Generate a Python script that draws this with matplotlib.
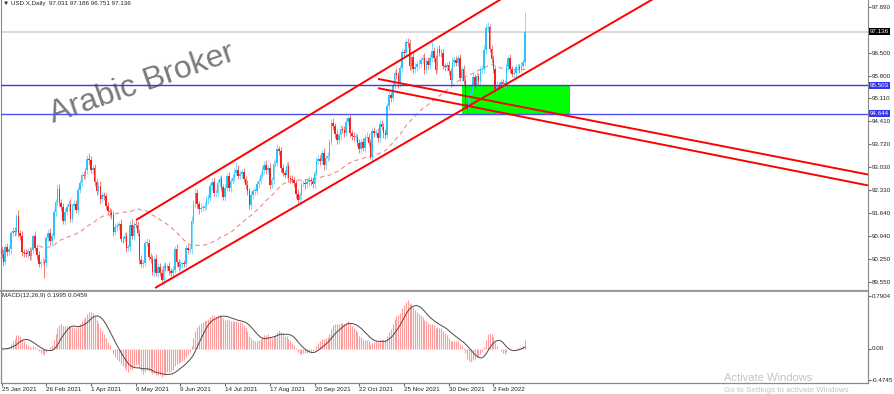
import numpy
import matplotlib
matplotlib.use("Agg")
import matplotlib.pyplot as plt
from matplotlib.patches import Rectangle

plt.rcParams['font.family']=['Liberation Sans','DejaVu Sans']

# daily closes, USD.X, 25 Jan 2021 .. 25 Feb 2022
closes=[90.38,90.16,90.61,90.46,90.53, 91.02,91.10,91.06,91.53,91.03,
        90.94,90.44,90.43,90.40,90.48, 90.32,90.50,90.95,90.57,90.36,
        90.10,90.14,90.15,90.11,90.88, 91.02,90.77,90.93,91.66,91.98,
        92.36,91.95,91.83,91.40,91.67, 91.83,91.90,91.45,91.86,91.92,
        91.73,92.34,92.53,92.78,92.77, 92.94,93.28,93.23,92.93,92.99,
        92.57,92.31,92.46,92.05,92.17, 92.15,91.84,91.70,91.65,91.56,
        91.06,91.22,91.24,91.31,90.85, 90.84,90.94,90.58,90.61,91.28,
        90.93,91.28,91.27,91.04,90.22, 90.10,90.12,90.72,90.72,90.31,
        90.23,89.84,90.23,89.81,90.01, 89.82,89.59,90.03,89.98,90.02,
        89.87,89.82,89.91,90.53,90.14, 90.00,90.10,90.10,90.09,90.58,
        90.52,90.53,91.40,91.90,92.23, 91.90,91.75,91.80,91.80,91.85,
        92.05,92.10,92.44,92.58,92.23, 92.25,92.55,92.66,92.41,92.12,
        92.40,92.75,92.40,92.60,92.69, 92.86,92.93,92.76,92.83,92.87,
        92.67,92.48,92.29,91.87,92.17, 92.30,92.30,92.50,92.60,92.80,
        92.95,93.10,92.93,93.00,92.49, 92.62,93.13,93.16,93.58,93.51,
        93.00,92.86,92.80,93.06,92.68, 92.66,92.63,92.53,92.22,92.03,
        92.17,92.52,92.55,92.50,92.58, 92.63,92.60,92.50,92.85,93.22,
        93.26,93.21,93.44,93.09,93.30, 93.37,93.78,94.35,94.26,94.04,
        93.84,94.00,94.19,94.16,94.07, 94.40,94.51,94.05,93.96,93.94,
        93.95,93.76,93.57,93.79,93.61, 93.92,93.95,93.77,93.32,94.12,
        94.06,94.07,93.90,94.33,94.25, 94.05,94.00,94.87,95.20,95.13,
        95.50,95.88,95.81,95.54,96.03, 96.51,96.50,96.82,96.78,96.09,
        96.37,95.99,96.05,96.14,96.16, 96.27,96.34,95.97,96.24,96.12,
        96.32,96.55,96.32,95.98,96.60, 96.50,96.48,96.10,96.05,96.12,
        95.93,95.67, 96.22,96.26,96.18,96.34,95.74, 95.99,95.63,94.94,
        94.79,95.16, 95.27,95.75,95.53,95.78,95.64, 95.96,96.00,96.58,
        97.23,97.26, 96.62,96.31,96.00,95.40,95.49, 95.45,95.60,95.55,
        95.55,96.05, 96.33,96.00,95.85,95.87,96.05, 96.05,96.00,96.10,
        96.20,97.136]
# wick beyond the body, in hundredths
hi_ext=[12,15,8,10,14,6,12,10,7,18, 9,14,10,12,8,11,9,6,15,10,
        12,9,14,10,6,13,15,10,8,9, 14,16,11,12,10,9,13,15,8,10,
        11,7,10,9,12,8,10,16,14,9, 13,10,12,14,9,11,10,12,8,10,
        14,10,12,9,13,10,12,11,9,10, 18,9,14,12,10,13,11,8,15,12,
        10,14,9,16,10,11,12,9,13,8, 12,10,11,9,16,10,12,8,11,9,
        10,12,15,14,17,12,10,13,9,11, 10,12,9,11,14,10,12,9,13,10,
        11,9,14,10,12,13,26,15,10,9, 12,10,14,11,13,9,12,10,11,8,
        12,10,13,9,15,11,10,12,15,10, 14,11,9,12,13,10,12,9,11,14,
        10,12,9,11,10,13,10,12,9,11, 12,14,10,15,9,12,10,14,16,11,
        13,10,12,9,11,10,5,14,10,12, 11,9,13,10,12,10,14,11,12,10,
        12,10,14,11,13,10,12,9,13,11, 12,10,14,11,10,13,9,12,11,14,
        10,15,12,11,13,10,12,14,10,11, 13,36,11,12,10,14,11,12,9,10,
        12,10,14,11,12,10,13,11,12,14, 10,12,11,14,10,12,11,13,12,15,
        14,18,12,11,13,10,14,12,10,11, 12,14,11,13,10,12,11,13,10,12,
        11,59]
lo_ext=[10,12,9,14,11,13,9,12,10,11, 14,10,12,9,13,11,12,10,9,14,
        10,12,9,46,11,12,10,14,9,11, 12,10,14,9,12,11,13,10,9,12,
        10,14,11,9,12,10,11,13,9,12, 11,12,10,14,9,12,10,11,13,10,
        12,10,14,11,9,13,10,12,11,14, 10,12,9,11,14,10,12,9,13,11,
        12,10,11,9,12,10,6,13,10,12, 11,10,12,9,11,13,10,12,9,10,
        12,10,13,11,10,12,14,9,11,10, 11,13,10,12,9,11,10,14,12,10,
        12,10,11,13,10,12,9,11,10,12, 10,12,11,13,12,10,11,9,12,10,
        11,13,10,12,14,10,12,11,9,12, 13,10,12,11,10,12,9,11,13,9,
        12,10,11,13,10,12,11,10,12,9, 11,12,10,14,11,10,12,9,11,13,
        10,12,11,10,13,9,11,12,10,11, 12,10,11,13,10,12,11,10,4,12,
        11,10,12,11,10,13,12,10,11,12, 10,12,11,13,10,12,11,10,12,11,
        13,10,12,11,14,10,12,11,10,12, 11,10,12,13,10,12,11,10,12,11,
        10,12,11,13,10,12,11,10,12,14, 16,12,10,11,13,10,12,11,10,12,
        11,12,10,13,11,12,26,10,12,11, 10,12,11,13,10,12,11,10,12,11,
        10,10]
first_open=90.50

date_labels=["25 Jan 2021","26 Feb 2021","1 Apr 2021","6 May 2021","9 Jun 2021","14 Jul 2021",
             "17 Aug 2021","20 Sep 2021","22 Oct 2021","25 Nov 2021","30 Dec 2021","2 Feb 2022"]
label_step=24
price_ticks=[97.890,96.500,95.800,95.110,94.410,93.720,93.030,92.330,91.640,90.940,90.250,89.550]
level_hi=95.503
level_lo=94.644
header="USD.X,Daily  97.031 97.186 96.751 97.136"
macd_title="MACD(12,26,9) 0.1995 0.0459"
macd_ticks=[0.7904,0.0,-0.4745]
macd_tick_labels=["0.7904","0.00","-0.4745"]

# drawn objects, anchored at (bar, price)
channel_top=[(72.2,91.42),(300,99.21)]
channel_bottom=[(82.4,89.36),(400,99.77)]
fall_1=[(202.1,95.70),(465.1,92.80)]
fall_2=[(202.1,95.42),(465.1,92.47)]
zone_bars=[247.2,305.2]

def ema(v,n):
    k=2/(n+1)
    out=[v[0]]
    for x in v[1:]:
        out.append(out[-1]+k*(x-out[-1]))
    return numpy.array(out)

def sma(v,n):
    return numpy.array([numpy.mean(v[max(0,i-n+1):i+1]) for i in range(len(v))])

c=numpy.array(closes)
o=numpy.array([first_open]+closes[:-1])
h=numpy.maximum(o,c)+numpy.array(hi_ext)/100
l=numpy.minimum(o,c)-numpy.array(lo_ext)/100
x=numpy.arange(len(c))
ma=sma(c,50)
macd=ema(c,12)-ema(c,26)
signal=sma(macd,9)

W,H=895,394
fig=plt.figure(figsize=(W/100,H/100),dpi=100)
ax=fig.add_axes([1/W,1-291/H,867/W,291/H])
ax2=fig.add_axes([1/W,1-383/H,867/W,91/H])
xlim=(-0.3,465.1)

up_col="#2ec2fa"
dn_col="#f52020"
cols=[up_col if c[i]>=o[i] else dn_col for i in x]

ax.add_patch(Rectangle((zone_bars[0],level_lo),zone_bars[1]-zone_bars[0],level_hi-level_lo,
                       facecolor="#00ff00",edgecolor="none",zorder=1))
ax.axhline(c[-1],color="#d6d6d6",lw=1.3,zorder=1)
ax.vlines(x,l,h,colors=cols,lw=0.7,alpha=0.6,zorder=3)
ax.bar(x,numpy.maximum(numpy.abs(c-o),0.02),bottom=numpy.minimum(o,c),width=0.85,color=cols,lw=0,zorder=3)
ax.plot(x[20:],ma[20:],color="#f08a8a",lw=0.8,ls=(0,(4,3)),zorder=2)
ax.axhline(level_hi,color="#3a3ae6",lw=1.0,zorder=4)
ax.axhline(level_lo,color="#5050ee",lw=1.0,zorder=4)
for ln in [channel_top,channel_bottom,fall_1,fall_2]:
    ax.plot([ln[0][0],ln[1][0]],[ln[0][1],ln[1][1]],color="#ff0000",lw=1.4,zorder=5,solid_capstyle="butt")

ax.set_xlim(*xlim)
ax.set_ylim(89.268,98.093)
ax.yaxis.tick_right()
ax.set_yticks(price_ticks)
ax.set_yticklabels(["%.3f"%v for v in price_ticks])
ax.tick_params(axis="y",labelsize=4.5,length=2,pad=1,color="#666666",labelcolor="#222222")
ax.tick_params(axis="x",bottom=False,labelbottom=False)
ax.spines["top"].set_visible(False)
ax.spines["left"].set_color("#8a8a8a")
ax.spines["right"].set_color("#8a8a8a")
ax.spines["right"].set_linewidth(0.8)
ax.spines["bottom"].set_color("#9a9a9a")
ax.spines["bottom"].set_linewidth(1.6)

for val,fc in [(c[-1],"#000000"),(level_hi,"#3434f0"),(level_lo,"#3434f0")]:
    ax.annotate("%.3f"%val,xy=(1,val),xycoords=ax.get_yaxis_transform(),xytext=(1.2,0),
                textcoords="offset points",ha="left",va="center",fontsize=4.5,color="white",
                bbox=dict(boxstyle="square,pad=0.18",fc=fc,ec="none"),annotation_clip=False,zorder=10)

ax.text(142/W,1-84/H,"Arabic Broker",transform=fig.transFigure,fontsize=23,color="#7a7a7a",
        rotation=19,ha="center",va="center",zorder=1)
fig.text(3/W,1-4/H,"\u25bc "+header,fontsize=4.5,color="#222222",ha="left",va="center")

ax2.vlines(x,0,macd,colors="#ff9c9c",lw=0.8)
ax2.plot(x,signal,color="#4a4a4a",lw=0.7)
ax2.set_xlim(*xlim)
ax2.set_ylim(-0.5175,0.8475)
ax2.yaxis.tick_right()
ax2.set_yticks(macd_ticks)
ax2.set_yticklabels(macd_tick_labels)
ax2.set_xticks([i*label_step for i in range(len(date_labels))])
ax2.set_xticklabels(date_labels,ha="left")
ax2.tick_params(labelsize=4.5,length=2,pad=1,color="#666666",labelcolor="#222222")
ax2.spines["top"].set_visible(False)
for s in ["left","right","bottom"]:
    ax2.spines[s].set_color("#8a8a8a")
    ax2.spines[s].set_linewidth(0.9)
ax2.text(2/W,1-296/H,macd_title,transform=fig.transFigure,fontsize=4.5,color="#222222",ha="left",va="center")

fig.text(724/W,1-378/H,"Activate Windows",fontsize=8,color="#c4c4c4",ha="left",va="center")
fig.text(724/W,1-391/H,"Go to Settings to activate Windows",fontsize=5.8,color="#c4c4c4",ha="left",va="center")

fig.savefig("out.png",dpi=100)
